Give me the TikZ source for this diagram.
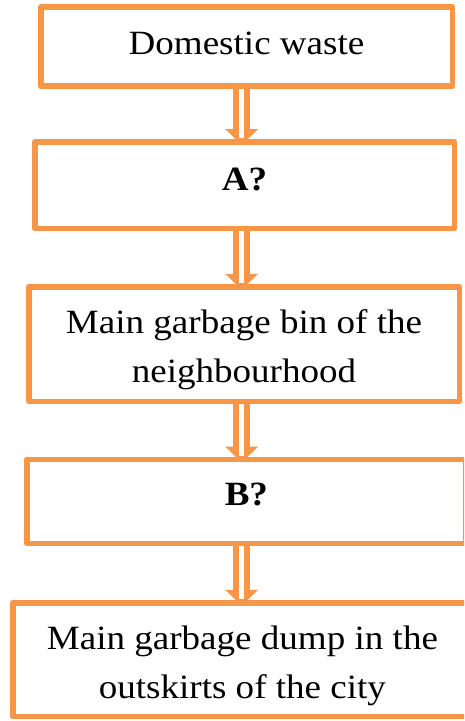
\documentclass[tikz,border=0pt]{standalone}
\usepackage{fontspec}
\setmainfont{Liberation Serif}[FakeStretch=1.09]
\pgfdeclarelayer{bg}
\pgfsetlayers{bg,main}
\definecolor{boxorange}{HTML}{F79646}
\tikzset{
  box/.style={draw=boxorange, line width=5.5pt, line join=round, inner sep=0pt,
    outer sep=0pt, align=center, font=\fontsize{34}{48.5}\selectfont},
}
\newcommand\dblarrow[2]{%
  \path (#1.south -| ax) coordinate (#1s) (#2.north -| ax) coordinate (#2t);
  \draw[boxorange, line width=17pt] (#1s) -- ([yshift=13pt]#2t);
  \fill[boxorange] ([xshift=-16.5pt,yshift=13pt]#2t) -- ([xshift=16.5pt,yshift=13pt]#2t) -- ([yshift=-3pt]#2t) -- cycle;
  \draw[white, line width=5.5pt] (#1s) -- ([yshift=4pt]#2t);
}
\begin{document}
\begin{tikzpicture}[x=1pt,y=-1pt]
\useasboundingbox (0,0) rectangle (464,721);
\clip (0,0) rectangle (464,721);
\coordinate (ax) at (241.7,0);
\node[box, minimum width=411.5pt, minimum height=79.25pt, text height=24pt, text depth=8pt] (b1) at (246.5,46.4) {Domestic waste};
\node[box, minimum width=419.5pt, minimum height=86.5pt, text height=24pt, text depth=14.5pt] (b2) at (244.5,185.25) {\textbf{A?}};
\node[box, minimum width=430.5pt, minimum height=114.5pt, text height=84pt, text depth=8pt] (b3) at (244,344) {Main garbage bin of the\\neighbourhood};
\node[box, minimum width=439.25pt, minimum height=83.75pt, text height=24pt, text depth=15pt] (b4) at (246.4,501.4) {\textbf{B?}};
\node[box, minimum width=459.25pt, minimum height=113.5pt, text height=85pt, text depth=8pt] (b5) at (242.4,659.5) {Main garbage dump in the\\outskirts of the city};
\begin{pgfonlayer}{bg}
\dblarrow{b1}{b2}
\dblarrow{b2}{b3}
\dblarrow{b3}{b4}
\dblarrow{b4}{b5}
\end{pgfonlayer}
\end{tikzpicture}
\end{document}
